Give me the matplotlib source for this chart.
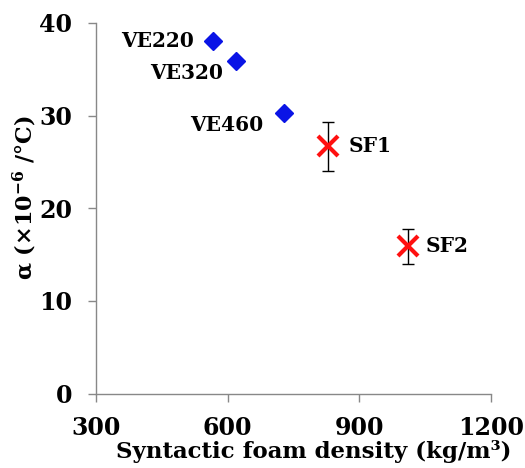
import matplotlib.pyplot as plt

# resin (VE) and syntactic foam (SF) values
ve_names = ["VE220", "VE320", "VE460"]
ve_density = [567, 619, 728]
ve_alpha = [38.0, 35.9, 30.3]

sf_names = ["SF1", "SF2"]
sf_density = [828, 1010]
sf_alpha = [26.7, 15.9]
sf_err = [2.65, 1.9]

xticks = [300, 600, 900, 1200]
yticks = [0, 10, 20, 30, 40]

FONT = "DejaVu Serif"
plt.rcParams['font.family'] = FONT
plt.rcParams['font.weight'] = 'bold'
plt.rcParams['mathtext.fontset'] = 'dejavuserif'
plt.rcParams['mathtext.default'] = 'bf'

fig = plt.figure(figsize=(5.25, 4.68), dpi=100)
ax = fig.add_axes([0.183, 0.159, 0.752, 0.792])

ax.plot(ve_density, ve_alpha, linestyle='none', marker='D', color='#0a14e6',
        markersize=9, zorder=3)
ax.errorbar(sf_density, sf_alpha, yerr=sf_err, fmt='none', ecolor='black',
            elinewidth=1, capsize=4, capthick=1, zorder=2)
ax.plot(sf_density, sf_alpha, linestyle='none', marker='x', color='#ff1010',
        markersize=15, markeredgewidth=3, zorder=3)

# point labels
ve_offsets = [(-14, 0), (-9, -9), (-15, -9)]
for name, x, y, off in zip(ve_names, ve_density, ve_alpha, ve_offsets):
    ax.annotate(name, (x, y), textcoords="offset points", xytext=off,
                ha='right', va='center', fontsize=14.5, fontweight='bold')
sf_offsets = [(15, 0), (13, 0)]
for name, x, y, off in zip(sf_names, sf_density, sf_alpha, sf_offsets):
    ax.annotate(name, (x, y), textcoords="offset points", xytext=off,
                ha='left', va='center', fontsize=14.5, fontweight='bold')

ax.set_xlim(300, 1200)
ax.set_ylim(0, 40)
ax.set_xticks(xticks)
ax.set_yticks(yticks)
ax.tick_params(axis='both', direction='out', length=6, width=1, color='#888888',
               labelsize=17)
ax.tick_params(axis='x', pad=10)
ax.tick_params(axis='y', pad=11)
for lbl in ax.get_xticklabels() + ax.get_yticklabels():
    lbl.set_fontweight('bold')

for side in ['top', 'right']:
    ax.spines[side].set_visible(False)
for side in ['left', 'bottom']:
    ax.spines[side].set_color('#888888')
    ax.spines[side].set_linewidth(1)

ax.set_xlabel("Syntactic foam density (kg/m³)", fontsize=16.5, fontweight='bold',
              labelpad=0, x=0.55)
ax.set_ylabel("α (×10$^{-6}$ /°C)", fontsize=16, fontweight='bold',
              labelpad=0, y=0.53)

fig.savefig("out.png", dpi=100)
